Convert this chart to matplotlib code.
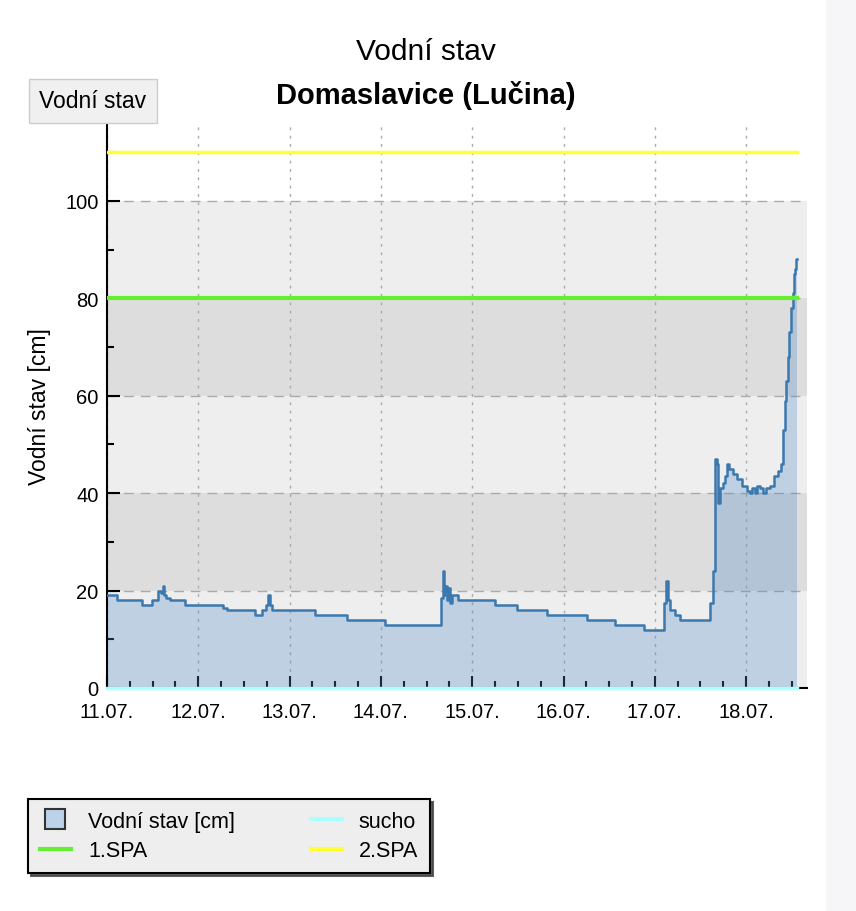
import matplotlib.pyplot as plt
from matplotlib.lines import Line2D
from matplotlib.patches import Rectangle
from matplotlib.ticker import MultipleLocator

plt.rcParams['font.family'] = ['Liberation Sans', 'DejaVu Sans']

# hours since 11.07. 00:00, water level in cm (step series)
hours = [0.0, 2.6, 9.2, 11.8, 13.4, 14.2, 14.7, 15.0, 15.5, 16.6, 20.5, 30.5, 31.5,
         38.9, 40.7, 41.8, 42.3, 42.8, 43.4, 54.7, 63.1, 73.1, 87.8, 88.3, 88.6,
         88.9, 89.4, 89.6, 90.2, 90.7, 92.3, 102.0, 107.8, 115.7, 126.2, 133.5,
         141.2, 146.4, 146.9, 147.5, 148.0, 149.3, 150.6, 158.5, 159.3, 159.8,
         160.3, 160.6, 161.1, 161.9, 162.4, 163.0, 163.5, 164.6, 165.6, 166.9,
         168.2, 169.0, 169.6, 170.3, 170.9, 171.7, 172.4, 173.2, 174.3, 175.3,
         176.4, 177.2, 177.7, 178.2, 178.5, 179.0, 179.3, 179.8, 180.3, 180.6,
         180.8, 181.1, 181.4]
level = [19, 18, 17, 18, 20, 19.5, 21, 19, 18.5, 18, 17, 16.5, 16,
         15, 16, 17, 19, 17, 16, 15, 14, 13, 18.5, 24, 19,
         21, 18, 20.5, 17.5, 19, 18, 17, 16, 15, 14, 13,
         12, 17.5, 22, 18, 16, 15, 14, 17.5, 24, 47,
         46, 38, 41, 42, 43.5, 46, 45, 44, 43, 41.5,
         40.5, 40, 41, 40, 41.5, 41, 40, 41, 41.5, 43.5,
         44.5, 46, 53, 59, 63, 68, 73, 78, 81, 85,
         86, 88, 88]

day_labels = ['11.07.', '12.07.', '13.07.', '14.07.', '15.07.', '16.07.', '17.07.', '18.07.']
sucho = 0
spa1 = 80
spa2 = 110

fig = plt.figure(figsize=(8.56, 9.12), dpi=100)
fig.patches.append(Rectangle((826 / 856, 0), 30 / 856, 1, transform=fig.transFigure,
                             facecolor='#f6f6f8', edgecolor='none', zorder=-10))

ax = fig.add_axes([107 / 856, 223 / 912, 700 / 856, 564 / 912])
ax.set_xlim(0, 184)
ax.set_ylim(0, 115.8)

# alternating bands
for i, lo in enumerate(range(0, 100, 20)):
    ax.axhspan(lo, lo + 20, color='#eeeeee' if i % 2 == 0 else '#dddddd', zorder=0, lw=0)

ax.fill_between(hours, level, 0, step='post', color='#4f8cc9', alpha=0.3, lw=0, zorder=2)
ax.plot(hours, level, drawstyle='steps-post', color='#3b78ae', lw=1.8, zorder=3)

t_end = hours[-1]
ax.plot([0, t_end], [spa2, spa2], color='#ffff33', lw=2.5, zorder=4)
ax.plot([0, t_end], [spa1, spa1], color='#66ee33', lw=3, zorder=4)
ax.plot([0, t_end], [sucho, sucho], color='#aaffff', lw=2.5, zorder=4, clip_on=False)

ax.set_xticks([24 * i for i in range(len(day_labels))])
ax.set_xticklabels(day_labels)
ax.xaxis.set_minor_locator(MultipleLocator(6))
ax.set_yticks(range(0, 101, 20))
ax.yaxis.set_minor_locator(MultipleLocator(10))

ax.grid(axis='x', which='major', color='#aaaaaa', linestyle=(0, (2, 4)), lw=1, zorder=1)
ax.grid(axis='y', which='major', color='#aaaaaa', linestyle=(0, (7, 5)), lw=1, zorder=1)

ax.tick_params(which='major', direction='in', length=9, width=1.5, labelsize=14.5)
ax.tick_params(axis='x', which='major', pad=10)
ax.tick_params(axis='y', which='major', pad=6)
ax.tick_params(which='minor', direction='in', length=5, width=1.5)
for s in ['top', 'right']:
    ax.spines[s].set_visible(False)
for s in ['left', 'bottom']:
    ax.spines[s].set_linewidth(1.5)
ax.set_facecolor('white')

ax.set_ylabel('Vodní stav [cm]', fontsize=16.5, labelpad=10)

fig.text(426 / 856, 1 - 52 / 912, 'Vodní stav', ha='center', va='center', fontsize=21.5)
fig.text(426 / 856, 1 - 95 / 912, 'Domaslavice (Lučina)', ha='center', va='center',
         fontsize=21, fontweight='bold')
fig.text(93 / 856, 1 - 102 / 912, 'Vodní stav', ha='center', va='center', fontsize=16.5,
         bbox=dict(boxstyle='square,pad=0.45', facecolor='#f0f0f0', edgecolor='#cccccc'))

handles = [
    Line2D([], [], marker='s', markersize=14, markerfacecolor='#bcd2e8',
           markeredgecolor='#333333', markeredgewidth=1.5, linestyle='none'),
    Line2D([], [], color='#66ee33', lw=3),
    Line2D([], [], color='#aaffff', lw=3),
    Line2D([], [], color='#ffff33', lw=3),
]
labels = ['Vodní stav [cm]', '1.SPA', 'sucho', '2.SPA']
leg = fig.legend(handles, labels, ncol=2, loc='upper left',
                 bbox_to_anchor=(28 / 856, 1 - 800 / 912), borderaxespad=0, fontsize=15.5,
                 frameon=True, fancybox=False, shadow={'color': '#444444', 'alpha': 0.85},
                 handlelength=1.45, columnspacing=3.5, labelspacing=0.4,
                 borderpad=0.55, handletextpad=0.8)
leg.get_frame().set_facecolor('#eeeeee')
leg.get_frame().set_edgecolor('black')
leg.get_frame().set_linewidth(1.5)
leg.get_frame().set_alpha(1)

fig.savefig('out.png', dpi=100)
